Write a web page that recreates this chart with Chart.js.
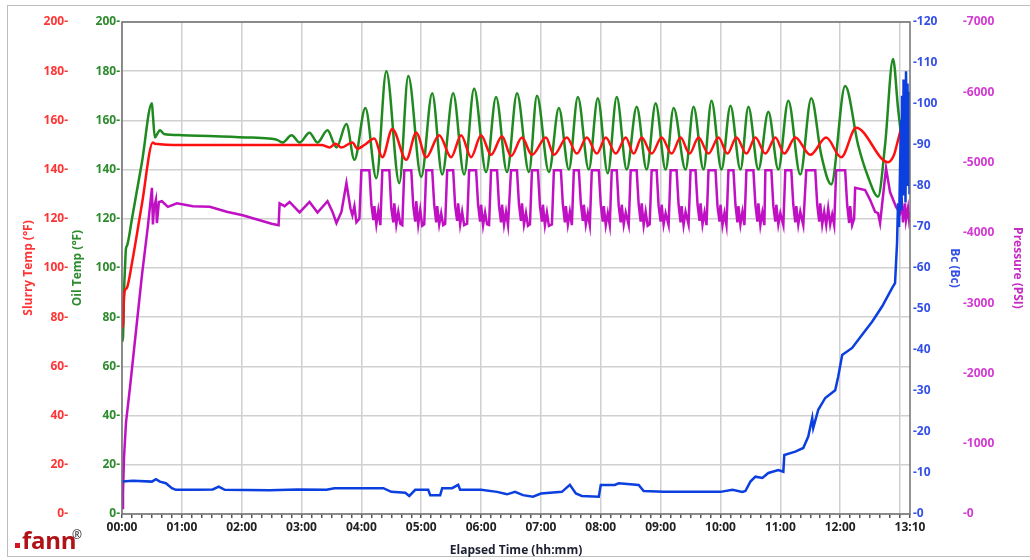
<!DOCTYPE html>
<html>
<head>
<meta charset="utf-8">
<script src="https://cdn.jsdelivr.net/npm/chart.js@4.4.1/dist/chart.umd.min.js"></script>
<style>
  html, body { margin: 0; padding: 0; background: #fff; }
  #wrap { position: relative; width: 1030px; height: 560px; overflow: hidden; }
  #frame { position: absolute; left: 7px; top: 5px; width: 1040px; height: 552px; border: 1px solid #bdbdbd; box-sizing: border-box; }
  #chart { position: absolute; left: 0; top: 0; }
  #logoBox { position: absolute; left: 15px; top: 543px; width: 5px; height: 5px; background: #d4141c; }
  #logo { position: absolute; left: 22px; top: 527px; font: bold 24px 'Open Sans'; line-height: 26px; color: #b01218; letter-spacing: -0.3px; }
  #reg { position: absolute; left: 72px; top: 526px; font: 12px 'Open Sans'; color: #222; }
</style>
</head>
<body>
<div id="wrap">
  <div id="frame"></div>
  <canvas id="chart" width="1030" height="560"></canvas>
  <div id="logoBox"></div>
  <div id="logo">fann</div>
  <div id="reg">®</div>
</div>
<script>
// x = elapsed minutes, y = value
const slurryTemp = [
  [0,76],[1,76],[2,88],[3,91],[5,92],[10,102],[20,126],[31,151],[33,150.5],[60,150],[100,150],[150,150],
  [200,150],[208,149],[214,150.5],[220,149],[231,151],[236,148.5],[243,150],[253,152.6],[261,145],
  [271,156.5],[285,144],[295,155],[305,145],[318,154],[330,145],[340,154],[350,145],[360,154],[370,146],
  [381,153.6],[390,145.5],[401,153],[411,146],[425,153],[433,146],[446,153],[456,146.5],[466,153],
  [476,146.5],[485,153],[495,146.5],[505,153],[513,146.5],[521,153],[531,146.5],[541,153],[551,146.5],
  [560,153],[569,146.5],[578,153],[588,146.5],[598,153],[607,146.5],[616,153],[626,146.5],[635,153],
  [645,146.5],[655,153],[664,146.5],[675,153],[690,146],[706,153],[721,145],[736,157],[768,143],
  [774,146],[778,152],[783,159],[786,160],[789,158]
];

const oilTemp = [
  [0,70],[1,72],[2,90],[3,100],[4,108],[5,109],[10,120],[20,143],[30,167],[31,162],[33,153],[36,155],
  [38,156],[42,154.5],[60,154],[100,153.5],[130,153],[150,152.5],[156,152],[161,151],[170,154],[178,151],
  [188,155],[196,151],[206,156],[215,149],[225,158.5],[233,144],[244,165],[255,136.5],[265,180],
  [278,134.5],[287,178],[300,137],[311,171],[321,138],[332,171],[343,138],[353,173],[365,139],
  [375,169.5],[386,139],[396,171],[408,139],[416,170],[428,139],[438,165],[448,140],[457,169.5],
  [468,140],[477,169],[487,138.5],[496,169.5],[506,140],[516,165.5],[526,140],[535,167],[545,140],
  [553,165],[565,140],[573,165.5],[583,140],[591,168],[601,140],[610,166],[620,140],[628,165.5],
  [638,140],[648,163.5],[658,140],[668,168],[680,138],[691,169],[701,146],[711,134],[725,174],
  [738,150],[748,137],[758,129],[765,150],[773,185],[778,165],[783,148],[789,137]
];

const consistency = [
  [0,7.9],[11,8.1],[30,7.9],[34,8.5],[38,7.9],[44,7.5],[50,6.3],[54,5.9],[75,5.9],[91,6.0],[97,6.7],
  [103,5.9],[148,5.8],[176,6.0],[205,5.9],[213,6.3],[262,6.3],[270,5.4],[284,5.2],[288,4.4],[294,5.9],
  [307,5.9],[309,4.6],[319,4.6],[321,6.3],[331,6.3],[337,7.1],[339,5.9],[360,5.9],[376,5.4],[386,4.8],
  [394,5.4],[402,4.6],[412,4.2],[420,5.0],[441,5.4],[449,7.1],[455,5.0],[461,4.4],[478,4.2],[480,7.1],
  [494,7.1],[498,7.5],[518,7.1],[523,5.6],[543,5.4],[600,5.4],[612,5.9],[622,5.4],[625,5.6],[630,7.9],
  [635,9.1],[642,8.8],[648,10],[658,10.7],[663,10.3],[664,14.4],[675,15.2],[683,16.1],[688,18.9],
  [692,23.4],[693,21],[698,25.4],[705,28.3],[715,30.2],[718,33.5],[722,38.8],[732,40.5],[742,43.7],
  [752,46.9],[762,50.6],[772,55.1],[775,56.3],[777,66],[778,75.8],[779,70],[780,84],[781,96],
  [781.5,74],[782,102],[783,78],[783.5,106],[784,82],[785,104],[785.5,76],[786,108],[787,84],
  [787.5,105],[788,80],[789,103],[789.5,78],[790,100]
];

const pressure = [
  [0,85],[1,300],[2,800],[4,1300],[8,1800],[14,2600],[20,3400],[26,4100],[30,4640],[31,4120],[32,4350],
  [34,4470],[35,4140],[37,4440],[40,4450],[46,4370],[55,4420],[71,4380],[88,4370],[105,4300],[121,4250],
  [138,4180],[150,4130],[157,4110],[158,4420],[163,4380],[168,4440],[178,4290],[188,4440],[196,4290],
  [206,4450],[211,4300],[215,4140],[220,4300],[225,4710],[229,4350],[231,4250],[233,4380],[235,4150],
  [238,4200],
  [240,4890],[248,4890],[250,4400],[252,4180],[253,4380],[255,4120],[257,4320],[259,4110],
  [261,4890],[268,4890],[270,4350],[272,4150],[273,4420],[275,4120],[277,4300],[279,4130],[281,4110],
  [283,4890],[290,4890],[292,4380],[294,4160],[295,4450],[297,4120],[299,4330],[301,4100],[303,4120],
  [305,4890],[311,4890],[313,4400],[315,4150],[316,4380],[318,4120],[320,4280],[322,4110],[324,4130],
  [326,4890],[332,4890],[334,4380],[336,4170],[337,4420],[339,4120],[341,4300],[343,4110],[346,4130],
  [348,4890],[355,4890],[357,4400],[359,4160],[360,4400],[362,4110],[364,4290],[366,4120],[368,4110],
  [370,4890],[376,4890],[378,4380],[380,4150],[381,4400],[383,4120],[385,4300],[387,4110],
  [390,4890],[396,4890],[398,4400],[400,4170],[401,4420],[403,4120],[405,4280],[407,4100],[409,4120],
  [411,4890],[417,4890],[419,4380],[421,4160],[422,4400],[424,4110],[426,4290],[428,4100],[431,4120],
  [433,4890],[440,4890],[442,4400],[444,4150],[445,4380],[447,4120],[449,4300],[451,4110],
  [453,4890],[458,4890],[460,4420],[462,4170],[463,4400],[465,4120],[467,4280],[469,4110],
  [471,4890],[478,4890],[480,4400],[482,4160],[483,4380],[485,4110],[487,4280],[489,4110],
  [491,4890],[496,4890],[498,4380],[500,4150],[501,4400],[503,4120],[505,4290],[508,4110],
  [510,4890],[516,4890],[518,4400],[520,4160],[521,4420],[523,4110],[525,4300],[527,4100],[529,4120],
  [531,4890],[536,4890],[538,4380],[540,4160],[541,4400],[543,4120],[545,4280],[548,4110],
  [550,4890],[556,4890],[558,4400],[560,4150],[561,4380],[563,4110],[565,4300],[568,4120],
  [570,4890],[575,4890],[577,4400],[579,4170],[580,4420],[582,4120],[584,4290],[586,4110],
  [588,4890],[595,4890],[597,4380],[599,4160],[600,4400],[602,4110],[604,4280],[606,4110],
  [608,4890],[613,4890],[615,4400],[617,4150],[618,4380],[620,4120],[622,4300],[624,4110],
  [626,4890],[633,4890],[635,4400],[637,4160],[638,4420],[640,4110],[642,4290],[644,4110],
  [645,4890],[651,4890],[653,4380],[655,4160],[656,4400],[658,4120],[660,4280],[663,4110],
  [665,4890],[671,4890],[673,4400],[675,4150],[676,4380],[678,4120],[680,4300],[683,4110],
  [686,4890],[695,4890],[697,4400],[699,4160],[700,4420],[702,4120],[704,4300],[706,4110],[708,4350],
  [710,4120],[712,4260],[714,4110],
  [716,4890],[725,4890],[727,4400],[729,4140],[730,4380],[732,4110],[734,4200],
  [735,4640],[745,4610],[750,4470],[755,4300],[758,4280],[760,4140],[762,4400],[766,4920],[770,4580],
  [776,4370],[780,4280],[782,4400],[783,4150],[785,4420],[786,4180],[788,4350],[789,4200],[790,4300]
];

const xLabelMinutes = [0, 60, 120, 180, 240, 300, 360, 420, 480, 540, 600, 660, 720, 790];
const xTickLabels = ['00:00', '01:00', '02:00', '03:00', '04:00', '05:00', '06:00', '07:00',
  '08:00', '09:00', '10:00', '11:00', '12:00', '13:10'];

const minorTicks = [];
for (let m = 0; m <= 790; m += 10) minorTicks.push(m);

const tickFont = { family: 'Open Sans', size: 12, weight: 'bold' };
const titleFont = { family: 'Open Sans', size: 12, weight: 'bold' };

const plotFrame = {
  id: 'plotFrame',
  afterDatasetsDraw(chart) {
    const { ctx, chartArea: a } = chart;
    ctx.save();
    ctx.strokeStyle = '#707070';
    ctx.lineWidth = 1.5;
    ctx.strokeRect(a.left, a.top, a.right - a.left, a.bottom - a.top);
    ctx.restore();
  }
};

const line = (label, data, color, axis, order, smooth) => ({
  label: label,
  data: data,
  borderColor: color,
  backgroundColor: color,
  borderWidth: 2.5,
  pointRadius: 0,
  yAxisID: axis,
  order: order,
  cubicInterpolationMode: smooth ? 'monotone' : 'default',
  tension: 0
});

new Chart(document.getElementById('chart').getContext('2d'), {
  type: 'line',
  data: {
    datasets: [
      line('Bc', consistency, '#0b3fdf', 'yBc', 0, false),
      line('Slurry Temp', slurryTemp, '#ff1010', 'ySlurry', 1, true),
      line('Pressure', pressure, '#c010c4', 'yPressure', 2, false),
      line('Oil Temp', oilTemp, '#1f8a1f', 'yOil', 3, true)
    ]
  },
  options: {
    responsive: false,
    animation: false,
    layout: { padding: { top: 22, left: 0, right: 0, bottom: 0 } },
    plugins: { legend: { display: false }, tooltip: { enabled: false } },
    scales: {
      x: {
        type: 'linear', min: 0, max: 790,
        afterBuildTicks: s => { s.ticks = minorTicks.map(v => ({ value: v })) },
        afterFit: s => { s.height = 46 },
        ticks: {
          autoSkip: false, maxRotation: 0, color: '#222', font: tickFont, padding: 2,
          callback: v => {
            const i = xLabelMinutes.indexOf(v);
            return i >= 0 ? xTickLabels[i] : '';
          }
        },
        grid: {
          color: c => (c.tick && c.tick.value % 60 === 0) ? '#cfcfcf' : 'rgba(0,0,0,0)',
          tickColor: '#555', tickLength: 4, lineWidth: 1.5
        },
        border: { display: false },
        title: { display: true, text: 'Elapsed Time (hh:mm)', color: '#1c2030', font: titleFont, padding: { top: 0, bottom: 2 } }
      },
      yOil: {
        position: 'left', min: 0, max: 200,
        afterFit: s => { s.width = 52 },
        ticks: { stepSize: 20, color: '#2e8b2e', font: tickFont, padding: 2, callback: v => v + '-' },
        grid: { color: '#d0d0d0', lineWidth: 1.5, drawTicks: false },
        border: { display: false },
        title: { display: true, text: 'Oil Temp (°F)', color: '#2e8b2e', font: titleFont, padding: { top: 0, bottom: 0 } }
      },
      ySlurry: {
        position: 'left', min: 0, max: 200,
        afterFit: s => { s.width = 70 },
        ticks: { stepSize: 20, color: '#ff3535', font: tickFont, padding: 2, callback: v => v + '-' },
        grid: { drawOnChartArea: false, drawTicks: false },
        border: { display: false },
        title: { display: true, text: 'Slurry Temp (°F)', color: '#ff3535', font: titleFont, padding: { top: 21, bottom: 0 } }
      },
      yBc: {
        position: 'right', min: 0, max: 120,
        afterFit: s => { s.width = 52 },
        ticks: { stepSize: 10, color: '#3550e6', font: tickFont, padding: 3, callback: v => '-' + v },
        grid: { drawOnChartArea: false, drawTicks: false },
        border: { display: false },
        title: { display: true, text: 'Bc (Bc)', color: '#3550e6', font: titleFont, padding: { top: 0, bottom: 0 } }
      },
      yPressure: {
        position: 'right', min: 0, max: 7000,
        afterFit: s => { s.width = 68 },
        ticks: { stepSize: 1000, color: '#d23cd2', font: tickFont, padding: 1, callback: v => '-' + v },
        grid: { drawOnChartArea: false, drawTicks: false },
        border: { display: false },
        title: { display: true, text: 'Pressure (PSI)', color: '#c42cc4', font: titleFont, padding: { top: 5, bottom: 0 } }
      }
    }
  },
  plugins: [plotFrame]
});
</script>
</body>
</html>
